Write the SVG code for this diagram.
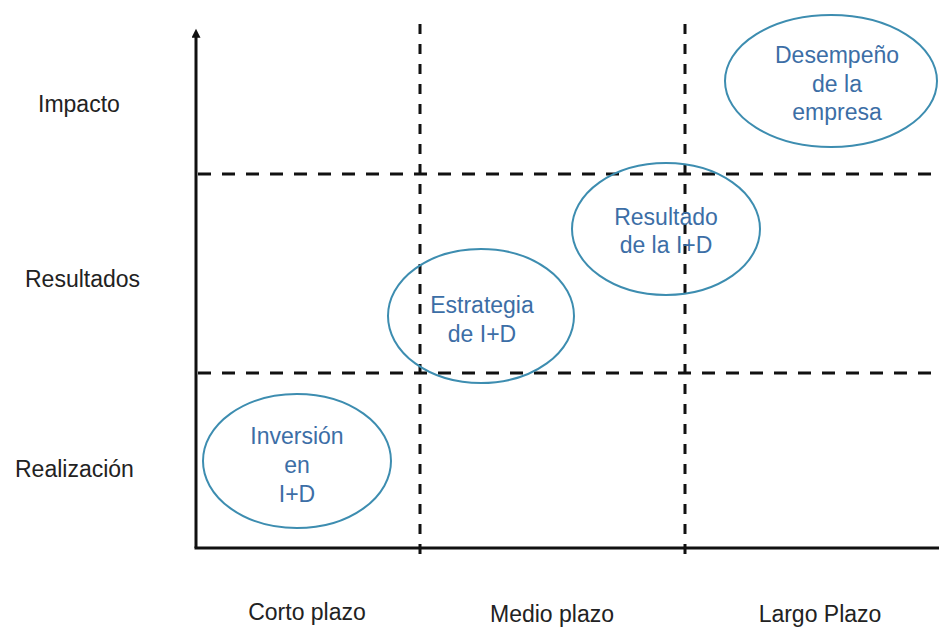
<svg xmlns="http://www.w3.org/2000/svg" width="939" height="627" viewBox="0 0 939 627">
<defs>
<style>
.axis{stroke:#111;stroke-width:3;fill:none}
.hd{stroke:#111;stroke-width:3;fill:none;stroke-dasharray:13 11}
.vd{stroke:#111;stroke-width:3;fill:none;stroke-dasharray:10 10}
.node ellipse{fill:none;stroke:#3d8db0;stroke-width:2}
.node text{font-family:"Liberation Sans",Arial,sans-serif;font-size:23px;fill:#3c6ea6;text-anchor:middle}
.lab{font-family:"Liberation Sans",Arial,sans-serif;font-size:23px;fill:#222}
</style>
<marker id="arr" viewBox="0 0 10 10" refX="2" refY="5" markerWidth="3.4" markerHeight="3" orient="auto" markerUnits="strokeWidth">
<path d="M0,0 L10,5 L0,10 Z" fill="#111"/>
</marker>
</defs>
<g id="connectors">
<line class="axis" x1="196" y1="548" x2="196" y2="36" marker-end="url(#arr)"/>
<line class="axis" x1="194.5" y1="548" x2="939" y2="548"/>
<line class="vd" x1="420" y1="24" x2="420" y2="556"/>
<line class="vd" x1="685" y1="24" x2="685" y2="556"/>
<line class="hd" x1="198" y1="174" x2="939" y2="174"/>
<line class="hd" x1="198" y1="373" x2="939" y2="373"/>
</g>
<g id="labels">
<text class="lab" x="38" y="112">Impacto</text>
<text class="lab" x="25" y="287">Resultados</text>
<text class="lab" x="15" y="477">Realización</text>
<text class="lab" x="307" y="620" text-anchor="middle">Corto plazo</text>
<text class="lab" x="552" y="622" text-anchor="middle">Medio plazo</text>
<text class="lab" x="820" y="622" text-anchor="middle">Largo Plazo</text>
</g>
<g id="n-inversion" class="node">
<ellipse cx="297" cy="461" rx="94" ry="67"/>
<text x="297" y="444">Inversión</text>
<text x="297" y="473">en</text>
<text x="297" y="502">I+D</text>
</g>
<g id="n-estrategia" class="node">
<ellipse cx="481" cy="316" rx="93" ry="67"/>
<text x="482" y="313">Estrategia</text>
<text x="482" y="342">de I+D</text>
</g>
<g id="n-resultado" class="node">
<ellipse cx="666" cy="229" rx="94" ry="66"/>
<text x="666" y="225">Resultado</text>
<text x="666" y="253">de la I+D</text>
</g>
<g id="n-desempeno" class="node">
<ellipse cx="831" cy="81" rx="106" ry="66"/>
<text x="837" y="63">Desempeño</text>
<text x="837" y="92">de la</text>
<text x="837" y="120">empresa</text>
</g>
</svg>
